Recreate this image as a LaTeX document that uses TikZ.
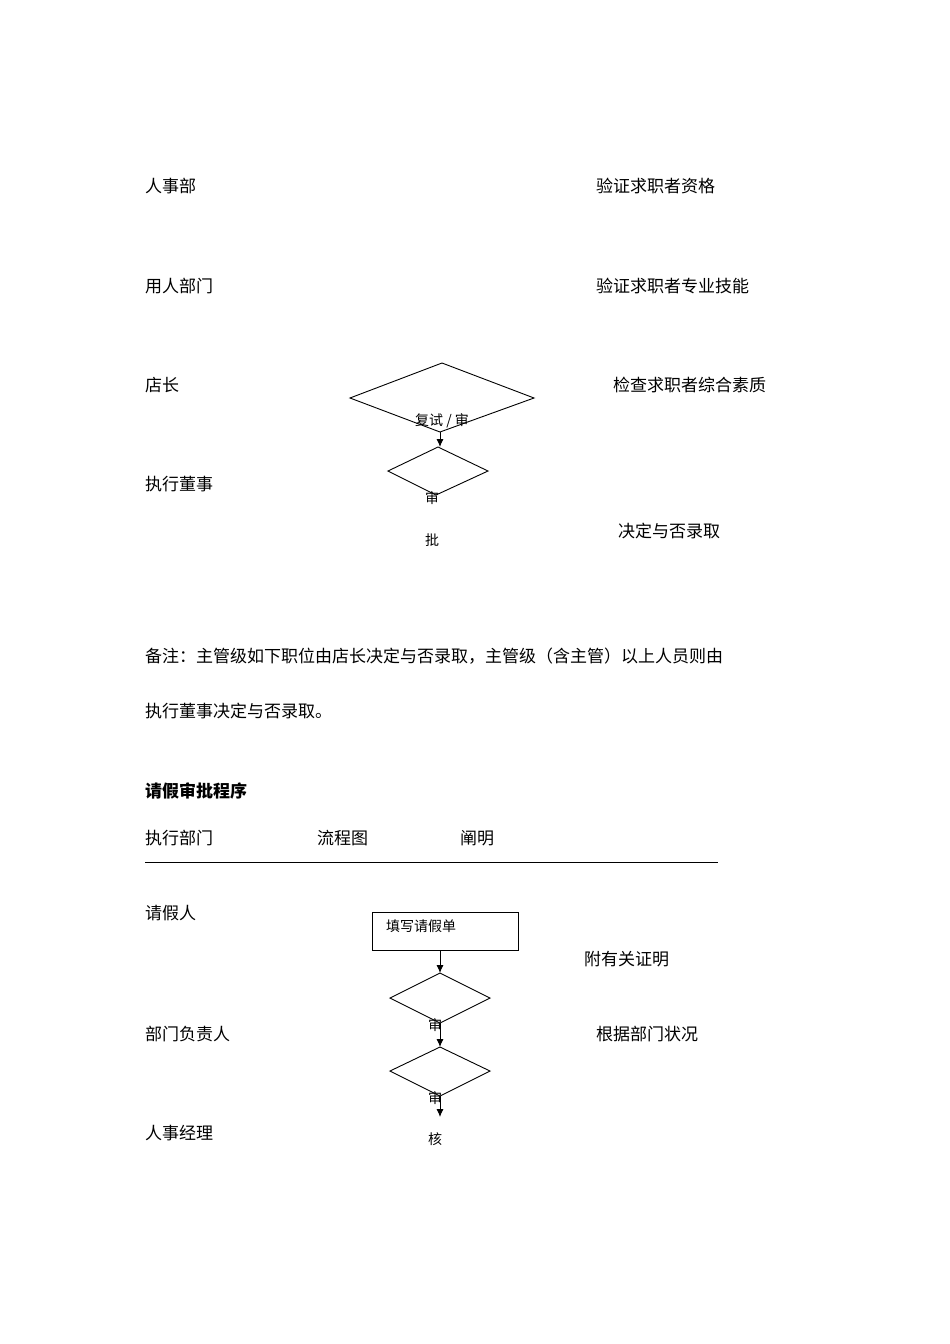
\documentclass[tikz,border=0pt]{standalone}
\usepackage{fontspec}
\setmainfont{Noto Sans CJK SC}
\begin{document}
\begin{tikzpicture}[x=1pt,y=-1pt,
  lab/.style={anchor=west,inner sep=0,font=\fontsize{17}{17}\selectfont},
  sm/.style={inner sep=0,font=\fontsize{14}{14}\selectfont},
  ln/.style={draw,line width=0.9pt},
  arr/.style={ln,-{Latex[length=8pt,width=7pt]}}]
\usetikzlibrary{arrows.meta}
\useasboundingbox[fill=white] (0,0) rectangle (950,1344);
\node[lab] (a1) at (145,186) {人事部};
\node[lab] (a2) at (596,186) {验证求职者资格};
\node[lab] (b1) at (145,286) {用人部门};
\node[lab] (b2) at (596,286) {验证求职者专业技能};
\node[lab] (c1) at (145,385) {店长};
\node[lab] (c2) at (613,385) {检查求职者综合素质};
\node[lab] (d1) at (145,484) {执行董事};
\node[lab] (d2) at (618,531) {决定与否录取};
\draw[ln] (442,363) -- (534,398) -- (440,432) -- (350,398) -- cycle;
\draw[ln] (438,447) -- (488,471) -- (436,495) -- (388,471) -- cycle;
\coordinate (p1) at (440,432); \coordinate (p2) at (440,447);
\draw[arr] (p1) -- (p2);
\node[sm] (t1) at (442,421) {复试 / 审};
\node[sm] (t2) at (432,498) {审};
\node[sm] (t3) at (432,540) {批};
\node[lab] (n1) at (145,656) {备注：主管级如下职位由店长决定与否录取，主管级（含主管）以上人员则由};
\node[lab] (n2) at (145,711) {执行董事决定与否录取。};
\node[lab,font=\fontsize{17}{17}\selectfont\bfseries] (h) at (145,791) {请假审批程序};
\node[lab] (h1) at (145,838) {执行部门};
\node[lab] (h2) at (317,838) {流程图};
\node[lab] (h3) at (460,838) {阐明};
\coordinate (l1) at (145,862); \coordinate (l2) at (718,862);
\draw[line width=0.8pt] (l1) -- (l2);
\node[lab] (e1) at (145,913) {请假人};
\node[lab] (e2) at (584,959) {附有关证明};
\node[lab] (f1) at (145,1034) {部门负责人};
\node[lab] (f2) at (596,1034) {根据部门状况};
\node[lab] (g1) at (145,1133) {人事经理};
\node[ln,minimum width=146pt,minimum height=38pt,inner sep=0] (box) at (445,931) {};
\node[sm,anchor=west] at (386,926) {填写请假单};
\draw[ln] (440,973) -- (490,998) -- (440,1023) -- (390,998) -- cycle;
\draw[ln] (440,1047) -- (490,1071) -- (440,1096) -- (390,1071) -- cycle;
\coordinate (q1) at (440,950); \coordinate (q2) at (440,973);
\coordinate (q3) at (440,1023); \coordinate (q4) at (440,1047);
\coordinate (q5) at (440,1096); \coordinate (q6) at (440,1117);
\draw[arr] (q1) -- (q2); \draw[arr] (q3) -- (q4); \draw[arr] (q5) -- (q6);
\node[sm] at (435,1025) {审};
\node[sm] at (435,1098) {审};
\node[sm] at (435,1139) {核};
\end{tikzpicture}
\end{document}
